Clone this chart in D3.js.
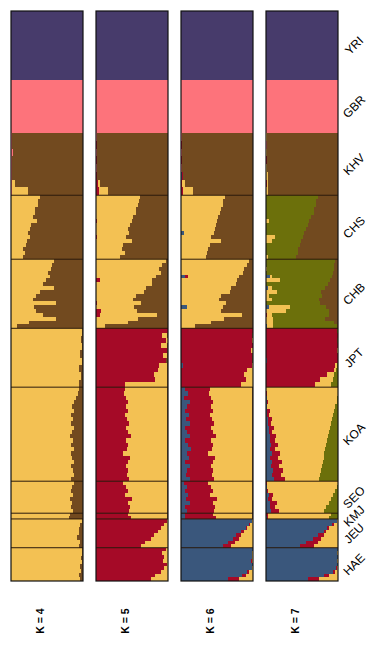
<!DOCTYPE html>
<html>
<head>
<meta charset="utf-8">
<script src="https://cdn.jsdelivr.net/npm/d3@7"></script>
<style>
  body { margin: 0; background: #fff; }
  text { font-family: "Liberation Sans", Arial, sans-serif; }
</style>
</head>
<body>
<div id="chart"></div>
<script>
// populations, top to bottom, and their relative sizes
const populations = ["YRI", "GBR", "KHV", "CHS", "CHB", "JPT", "KOA", "SEO", "KMJ", "JEU", "HAE"];
const sampleSizes = [108, 83, 97, 100, 108, 92, 147, 50, 9, 45, 52];
const kLabels = ["K = 4", "K = 5", "K = 6", "K = 7"];

const NAVY = "#473b6b", PINK = "#fd737b", BLUE = "#3a577c", CRIMSON = "#a50a27",
      YELLOW = "#f3c153", OLIVE = "#6c700b", BROWN = "#724a1f";

// ancestry components, left to right; the last one takes what is left of each row
const k4Colors = [NAVY, PINK, YELLOW, BROWN];
const k5Colors = [NAVY, PINK, CRIMSON, YELLOW, BROWN];
const k6Colors = [NAVY, PINK, BLUE, CRIMSON, YELLOW, BROWN];
const k7Colors = [NAVY, PINK, BLUE, CRIMSON, YELLOW, OLIVE, BROWN];

// per population: rows of ancestry fractions
const k4Rows = [
  [[1]],
  [[0,1]],
  [[0,.02,0],[0,.01,0],[0,.03,0],[0,.02,0],[0,.01,0],[0,.02,0],[0,.02,.03],[0,.01,.22]],
  [[0,0,.40],[0,0,.37],[0,0,.38],[0,0,.34],[0,0,.33],[0,0,.31],[0,0,.36],[0,0,.28],[0,0,.27],[0,0,.24],[0,0,.26],[0,0,.22],[0,0,.21],[0,0,.17],[0,0,.19],[0,0,.16]],
  [[0,0,.60],[0,0,.57],[0,0,.55],[0,0,.52],[0,0,.54],[0,0,.48],[0,0,.45],[0,0,.60],[0,0,.40],[0,0,.35],[0,0,.30],[0,0,.62],[0,0,.32],[0,0,.35],[0,0,.45],[0,0,.62],[0,0,.25],[0,0,.08]],
  [[0,0,.98],[0,0,.97],[0,0,.99],[0,0,.96],[0,0,.98],[0,0,.94],[0,0,.97],[0,0,.95]],
  [[0,0,.95],[0,0,.93],[0,0,.90],[0,0,.87],[0,0,.85],[0,0,.88],[0,0,.84],[0,0,.86],[0,0,.83],[0,0,.87],[0,0,.85],[0,0,.82],[0,0,.86],[0,0,.84],[0,0,.87],[0,0,.83],[0,0,.85],[0,0,.88],[0,0,.84],[0,0,.86],[0,0,.87],[0,0,.84]],
  [[0,0,.88],[0,0,.85],[0,0,.83],[0,0,.86],[0,0,.82],[0,0,.85],[0,0,.84],[0,0,.86]],
  [[0,0,.82],[0,0,.80]],
  [[0,0,.98],[0,0,.96],[0,0,.94],[0,0,.95],[0,0,.92],[0,0,.96],[0,0,.94]],
  [[0,0,.99],[0,0,.98],[0,0,.97],[0,0,.98],[0,0,.96],[0,0,.97],[0,0,.95],[0,0,.96]]
];

const k5Rows = [
  [[1]],
  [[0,1]],
  [[0,.01,0,0],[0,0,.01,0],[0,.02,0,0],[0,0,.01,.01],[0,.01,0,0],[0,0,.02,0],[0,0,.03,.03],[0,0,.04,.12]],
  [[0,0,0,.61],[0,0,0,.60],[0,0,0,.58],[0,0,0,.55],[0,0,0,.56],[0,0,0,.52],[0,0,.01,.49],[0,0,0,.47],[0,0,0,.44],[0,0,0,.46],[0,0,.02,.40],[0,0,0,.50],[0,0,0,.38],[0,0,0,.36],[0,0,0,.40],[0,0,0,.34]],
  [[0,0,0,.97],[0,0,0,.92],[0,0,0,.88],[0,0,0,.90],[0,0,0,.84],[0,0,.06,.72],[0,0,0,.78],[0,0,0,.70],[0,0,0,.66],[0,0,0,.55],[0,0,0,.52],[0,0,.02,.60],[0,0,0,.53],[0,0,.07,.50],[0,0,.05,.80],[0,0,0,.58],[0,0,0,.44],[0,0,0,.12]],
  [[0,0,1,0],[0,0,.92,.06],[0,0,.97,.03],[0,0,.90,.08],[0,0,.98,0],[0,0,.93,.05],[0,0,.97,0],[0,0,.88,.10],[0,0,.86,.12],[0,0,.80,.18],[0,0,.82,.16],[0,0,.40,.58]],
  [[0,0,.40,.59],[0,0,.39,.60],[0,0,.42,.57],[0,0,.44,.55],[0,0,.41,.58],[0,0,.45,.54],[0,0,.40,.59],[0,0,.43,.56],[0,0,.46,.53],[0,0,.42,.57],[0,0,.44,.55],[0,0,.48,.51],[0,0,.41,.58],[0,0,.45,.54],[0,0,.43,.56],[0,0,.38,.61],[0,0,.47,.52],[0,0,.44,.55],[0,0,.42,.57],[0,0,.45,.54],[0,0,.43,.56],[0,0,.46,.53]],
  [[0,0,.38,.61],[0,0,.42,.57],[0,0,.45,.54],[0,0,.40,.59],[0,0,.50,.49],[0,0,.44,.55],[0,0,.47,.52],[0,0,.46,.53]],
  [[0,0,.45,.54],[0,0,.48,.51]],
  [[0,0,.98,.02],[0,0,.95,.05],[0,0,.90,.10],[0,0,.86,.14],[0,0,.80,.20],[0,0,.76,.24],[0,0,.68,.32],[0,0,.62,.38]],
  [[0,0,.97,.03],[0,0,.92,.08],[0,0,.95,.05],[0,0,.93,.07],[0,0,.98,.02],[0,0,.94,.06],[0,0,.90,.10],[0,0,.82,.18],[0,0,.76,.24]]
];

const k6Rows = [
  [[1]],
  [[0,1]],
  [[0,.01,0,0,0],[0,0,0,.01,0],[0,.02,0,0,0],[0,0,0,.01,.01],[0,.01,0,0,0],[0,0,.01,.02,0],[0,0,0,.02,.04],[0,0,0,.03,.14]],
  [[0,0,0,0,.61],[0,0,0,0,.59],[0,0,0,0,.58],[0,0,0,0,.55],[0,0,0,0,.54],[0,0,0,0,.52],[0,0,0,0,.50],[0,0,0,0,.48],[0,0,0,0,.47],[0,0,.04,0,.42],[0,0,0,0,.42],[0,0,0,0,.55],[0,0,0,0,.40],[0,0,0,0,.37],[0,0,0,0,.36],[0,0,0,0,.35]],
  [[0,0,0,0,.95],[0,0,0,0,.92],[0,0,0,0,.88],[0,0,0,0,.86],[0,0,.05,.05,.70],[0,0,0,0,.78],[0,0,0,0,.76],[0,0,0,0,.70],[0,0,0,0,.68],[0,0,0,0,.55],[0,0,0,0,.53],[0,0,0,0,.62],[0,0,.08,0,.50],[0,0,0,0,.55],[0,0,0,0,.85],[0,0,0,0,.60],[0,0,0,0,.42],[0,0,0,0,.20]],
  [[0,0,0,1],[0,0,0,.99],[0,0,0,.98,.02],[0,0,0,1],[0,0,0,.97,.03],[0,0,0,.99],[0,0,0,.98],[0,0,.03,.95,.02],[0,0,0,.92,.08],[0,0,0,.88,.12],[0,0,0,.90,.10],[0,0,0,.83,.17]],
  [[0,0,.06,.34,.59],[0,0,.10,.29,.60],[0,0,.04,.38,.57],[0,0,.12,.32,.55],[0,0,.08,.33,.58],[0,0,.05,.40,.54],[0,0,.11,.29,.59],[0,0,.07,.36,.56],[0,0,.13,.33,.53],[0,0,.06,.36,.57],[0,0,.09,.35,.55],[0,0,.12,.36,.51],[0,0,.05,.36,.58],[0,0,.10,.35,.54],[0,0,.14,.29,.56],[0,0,.08,.30,.61],[0,0,.11,.36,.52],[0,0,.06,.38,.55],[0,0,.12,.30,.57],[0,0,.09,.36,.54],[0,0,.07,.36,.56],[0,0,.13,.33,.53]],
  [[0,0,.04,.34,.61],[0,0,.08,.34,.57],[0,0,.06,.39,.54],[0,0,.10,.30,.59],[0,0,.07,.43,.49],[0,0,.12,.32,.55],[0,0,.05,.42,.52],[0,0,.09,.37,.53]],
  [[0,0,.05,.40,.54],[0,0,.06,.42,.51]],
  [[0,0,.98,0,.02],[0,0,.95,.01,.04],[0,0,.90,.02,.08],[0,0,.84,.04,.12],[0,0,.77,.07,.16],[0,0,.72,.08,.20],[0,0,.65,.10,.25],[0,0,.58,.12,.30]],
  [[0,0,1,0,0],[0,0,.98,0,.02],[0,0,.99,0,.01],[0,0,.97,.01,.02],[0,0,1,0,0],[0,0,.98,0,.02],[0,0,.92,.03,.05],[0,0,.85,.05,.10],[0,0,.65,.15,.20]]
];

const k7Rows = [
  [[1]],
  [[0,1]],
  [[0,0,0,0,.01],[0,.01,0,0,0],[0,0,0,0,.02],[0,0,0,.01,0],[0,0,0,0,.01],[0,0,0,0,.03],[0,0,0,.01,.02],[0,0,0,0,.03]],
  [[0,0,0,0,0,.72],[0,0,0,0,0,.70],[0,0,0,0,0,.69],[0,0,0,0,0,.67],[0,0,0,0,0,.66],[0,0,0,0,0,.63],[0,0,0,0,.04,.56],[0,0,0,0,0,.58],[0,0,0,0,0,.56],[0,0,0,0,0,.53],[0,0,0,0,.12,.39],[0,0,0,0,.08,.41],[0,0,0,0,0,.47],[0,0,0,0,0,.45],[0,0,0,0,0,.44],[0,0,0,0,.03,.39]],
  [[0,0,0,0,0,.96],[0,0,0,0,0,.95],[0,0,0,0,.02,.92],[0,0,0,0,0,.93],[0,0,.05,0,.03,.84],[0,0,0,0,.19,.70],[0,0,0,0,0,.86],[0,0,.03,0,.05,.74],[0,0,0,0,.15,.62],[0,0,0,0,.04,.74],[0,0,0,0,.08,.66],[0,0,0,0,0,.75],[0,0,.04,0,.30,.50],[0,0,0,0,.28,.60],[0,0,0,.02,.06,.80],[0,0,0,0,.10,.72],[0,0,0,0,.10,.84],[0,0,.02,0,.08,.88]],
  [[0,0,0,.98,0,.02],[0,0,0,1],[0,0,0,.99],[0,0,0,1],[0,0,0,.98,.02],[0,0,0,1],[0,0,.02,.98],[0,0,0,.96,.02,.02],[0,0,0,.94,.03,.03],[0,0,0,.85,.10,.05],[0,0,0,.75,.18,.07],[0,0,0,.68,.22,.10]],
  [[0,0,0,0,1,0],[0,0,0,.01,.99,0],[0,0,.01,.01,.97,.01],[0,0,.01,.02,.95,.02],[0,0,.01,.01,.94,.04],[0,0,.02,.04,.89,.05],[0,0,.02,.02,.89,.07],[0,0,.03,.05,.84,.08],[0,0,.03,.04,.83,.10],[0,0,.04,.07,.78,.11],[0,0,.04,.05,.78,.13],[0,0,.06,.08,.72,.14],[0,0,.05,.07,.73,.15],[0,0,.07,.10,.67,.16],[0,0,.05,.08,.69,.18],[0,0,.08,.11,.62,.19],[0,0,.06,.10,.64,.20],[0,0,.09,.13,.57,.21],[0,0,.07,.11,.60,.22],[0,0,.10,.14,.53,.23],[0,0,.08,.13,.54,.25],[0,0,.11,.16,.47,.26]],
  [[0,0,0,.01,.99,0],[0,0,.01,.01,.96,.02],[0,0,.01,.02,.93,.04],[0,0,.04,.06,.83,.07],[0,0,.03,.05,.82,.10],[0,0,.06,.09,.72,.13],[0,0,.05,.07,.72,.16],[0,0,.07,.11,.62,.20]],
  [[0,0,0,.03,.87,.10],[0,0,.01,.02,.85,.12]],
  [[0,0,.99,0,.01],[0,0,.92,.02,.06],[0,0,.85,.03,.12],[0,0,.80,.04,.16],[0,0,.72,.08,.20],[0,0,.65,.12,.23],[0,0,.55,.17,.28],[0,0,.47,.20,.33]],
  [[0,0,1,0,0],[0,0,.99,0,.01],[0,0,1,0,0],[0,0,.98,.01,.01],[0,0,1,0,0],[0,0,.97,.01,.02],[0,0,.93,.03,.04],[0,0,.80,.07,.13],[0,0,.58,.16,.26]]
];

const panels = [
  {label: kLabels[0], colors: k4Colors, rows: k4Rows},
  {label: kLabels[1], colors: k5Colors, rows: k5Rows},
  {label: kLabels[2], colors: k6Colors, rows: k6Rows},
  {label: kLabels[3], colors: k7Colors, rows: k7Rows}
];

const WIDTH = 386, HEIGHT = 651;
const svg = d3.select("#chart").append("svg")
    .attr("width", WIDTH)
    .attr("height", HEIGHT);

const x = d3.scaleBand().domain(kLabels).range([11, 338]).paddingInner(13 / 85);
const starts = [0, ...d3.cumsum(sampleSizes)];
const y = d3.scaleLinear().domain([0, d3.sum(sampleSizes)]).range([11, 581]);

panels.forEach(p => {
    const xs = d3.scaleLinear().domain([0, 1]).range([x(p.label), x(p.label) + x.bandwidth()]);
    const segs = [];
    p.rows.forEach((popRows, pi) => {
        const n = popRows.length;
        popRows.forEach((r, ri) => {
            const y0 = y(starts[pi] + sampleSizes[pi] * ri / n);
            const y1 = y(starts[pi] + sampleSizes[pi] * (ri + 1) / n);
            const vals = p.colors.map((c, ci) => r[ci] || 0);
            const s = d3.sum(vals.slice(0, -1));
            vals[vals.length - 1] = Math.max(0, 1 - s);
            const tot = d3.sum(vals);
            let acc = 0;
            vals.forEach((v, ci) => {
                if (v > 0) segs.push({x0: acc / tot, x1: (acc + v) / tot, y0, y1, color: p.colors[ci]});
                acc += v;
            });
        });
    });

    const g = svg.append("g");
    g.selectAll("rect")
        .data(segs)
        .join("rect")
        .attr("x", d => xs(d.x0))
        .attr("width", d => xs(d.x1) - xs(d.x0))
        .attr("y", d => d.y0)
        .attr("height", d => d.y1 - d.y0)
        .attr("fill", d => d.color)
        .attr("shape-rendering", "crispEdges");

    // population separators (from CHS down)
    g.selectAll("line.sep")
        .data(starts.slice(3, populations.length))
        .join("line")
        .attr("class", "sep")
        .attr("x1", xs(0)).attr("x2", xs(1))
        .attr("y1", d => y(d)).attr("y2", d => y(d))
        .attr("stroke", "#2b1a0c")
        .attr("stroke-width", 1);

    g.append("rect")
        .attr("x", xs(0)).attr("y", y(0))
        .attr("width", xs(1) - xs(0)).attr("height", y(d3.sum(sampleSizes)) - y(0))
        .attr("fill", "none")
        .attr("stroke", "#111")
        .attr("stroke-width", 1.2);

    svg.append("text")
        .attr("transform", `translate(${x(p.label) + x.bandwidth() / 2 - 6.5},621) rotate(-90)`)
        .attr("text-anchor", "middle")
        .attr("dy", "0.35em")
        .style("font-size", "10.5px")
        .style("font-weight", "bold")
        .text(p.label);
});

svg.selectAll("text.pop")
    .data(populations)
    .join("text")
    .attr("class", "pop")
    .attr("transform", (d, i) => `translate(354,${y(starts[i] + sampleSizes[i] / 2)}) rotate(-45)`)
    .attr("text-anchor", "middle")
    .attr("dy", "0.35em")
    .style("font-size", "12px")
    .text(d => d);
</script>
</body>
</html>
